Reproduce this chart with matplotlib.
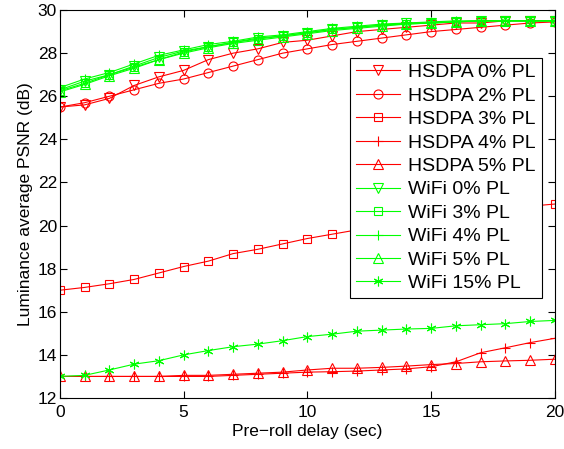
import matplotlib.pyplot as plt
import numpy as np

plt.rcParams['font.family'] = ['Liberation Sans', 'DejaVu Sans']

delay = np.arange(0, 21)

hsdpa_0 = [25.5, 25.6, 25.9, 26.5, 26.9, 27.2, 27.7, 28.0, 28.2, 28.5, 28.6, 28.8,
           29.0, 29.1, 29.2, 29.3, 29.4, 29.4, 29.5, 29.5, 29.5]
hsdpa_2 = [25.5, 25.7, 26.0, 26.3, 26.6, 26.8, 27.1, 27.4, 27.7, 28.0, 28.2, 28.4,
           28.55, 28.7, 28.85, 29.0, 29.1, 29.2, 29.3, 29.4, 29.45]
hsdpa_3 = [17.0, 17.13, 17.3, 17.5, 17.8, 18.1, 18.35, 18.7, 18.9, 19.15, 19.4, 19.6,
           19.8, 19.95, 20.1, 20.3, 20.45, 20.6, 20.75, 20.9, 21.0]
hsdpa_4 = [13.0, 13.0, 13.0, 13.0, 13.0, 13.0, 13.0, 13.05, 13.1, 13.15, 13.2, 13.22,
           13.25, 13.3, 13.35, 13.45, 13.68, 14.1, 14.33, 14.57, 14.77]
hsdpa_5 = [13.0, 13.0, 13.0, 13.0, 13.0, 13.05, 13.05, 13.1, 13.15, 13.2, 13.3, 13.38,
           13.38, 13.42, 13.48, 13.55, 13.6, 13.68, 13.72, 13.75, 13.8]
wifi_0 = [26.3, 26.7, 27.0, 27.4, 27.8, 28.1, 28.3, 28.5, 28.7, 28.8, 28.95, 29.1,
          29.2, 29.3, 29.4, 29.4, 29.45, 29.5, 29.5, 29.5, 29.5]
wifi_3 = [26.25, 26.6, 27.0, 27.35, 27.7, 28.05, 28.3, 28.5, 28.65, 28.8, 28.95, 29.1,
          29.2, 29.3, 29.35, 29.4, 29.45, 29.5, 29.5, 29.5, 29.5]
wifi_4 = [26.4, 26.8, 27.1, 27.5, 27.9, 28.15, 28.4, 28.55, 28.75, 28.85, 29.0, 29.15,
          29.25, 29.35, 29.4, 29.45, 29.5, 29.5, 29.5, 29.5, 29.5]
wifi_5 = [26.2, 26.55, 26.95, 27.3, 27.7, 28.0, 28.25, 28.45, 28.6, 28.75, 28.9, 29.05,
          29.15, 29.25, 29.35, 29.4, 29.45, 29.5, 29.5, 29.5, 29.5]
wifi_15 = [13.0, 13.05, 13.3, 13.57, 13.73, 14.0, 14.2, 14.38, 14.5, 14.66, 14.85, 14.96,
           15.1, 15.15, 15.2, 15.23, 15.35, 15.4, 15.45, 15.55, 15.6]

# matlab style asterisk
star = (6, 2, 0)

series = [
    (hsdpa_0, 'r', 'v', 'HSDPA 0% PL'),
    (hsdpa_2, 'r', 'o', 'HSDPA 2% PL'),
    (hsdpa_3, 'r', 's', 'HSDPA 3% PL'),
    (hsdpa_4, 'r', '+', 'HSDPA 4% PL'),
    (hsdpa_5, 'r', '^', 'HSDPA 5% PL'),
    (wifi_0, 'g', 'v', 'WiFi 0% PL'),
    (wifi_3, 'g', 's', 'WiFi 3% PL'),
    (wifi_4, 'g', '+', 'WiFi 4% PL'),
    (wifi_5, 'g', '^', 'WiFi 5% PL'),
    (wifi_15, 'g', star, 'WiFi 15% PL'),
]
colors = {'r': '#ff0000', 'g': '#00ff00'}
sizes = {'v': 7, '^': 7, 'o': 6.5, 's': 5.5, '+': 7.5}

fig = plt.figure(figsize=(5.64, 4.49), dpi=100)
ax = fig.add_axes([0.106, 0.1136, 0.878, 0.864])

for vals, c, m, lab in series:
    ms = sizes.get(m, 7) if isinstance(m, str) else 7
    ax.plot(delay, vals, color=colors[c], marker=m, markersize=ms,
            markerfacecolor='none', markeredgewidth=0.8, linewidth=0.8, label=lab)

ax.set_xlim(0, 20)
ax.set_ylim(12, 30)
ax.set_xticks([0, 5, 10, 15, 20])
ax.set_yticks(np.arange(12, 31, 2))
ax.tick_params(direction='in', top=True, right=True, labelsize=12.5, length=5)
ax.tick_params(axis='y', pad=2)
ax.tick_params(axis='x', pad=5)
for s in ax.spines.values():
    s.set_linewidth(0.8)
ax.set_xlabel('Pre\u2212roll delay (sec)', fontsize=12.5, labelpad=3)
ax.set_ylabel('Luminance average PSNR (dB)', fontsize=12.5, labelpad=3)

leg = ax.legend(loc='upper right', bbox_to_anchor=(0.973, 0.877), fontsize=14,
                fancybox=False, edgecolor='black', framealpha=1,
                handlelength=2.3, borderpad=0.3, labelspacing=0.3, handletextpad=0.4,
                borderaxespad=0)
leg.get_frame().set_linewidth(0.8)

fig.savefig('out.png', dpi=100)
